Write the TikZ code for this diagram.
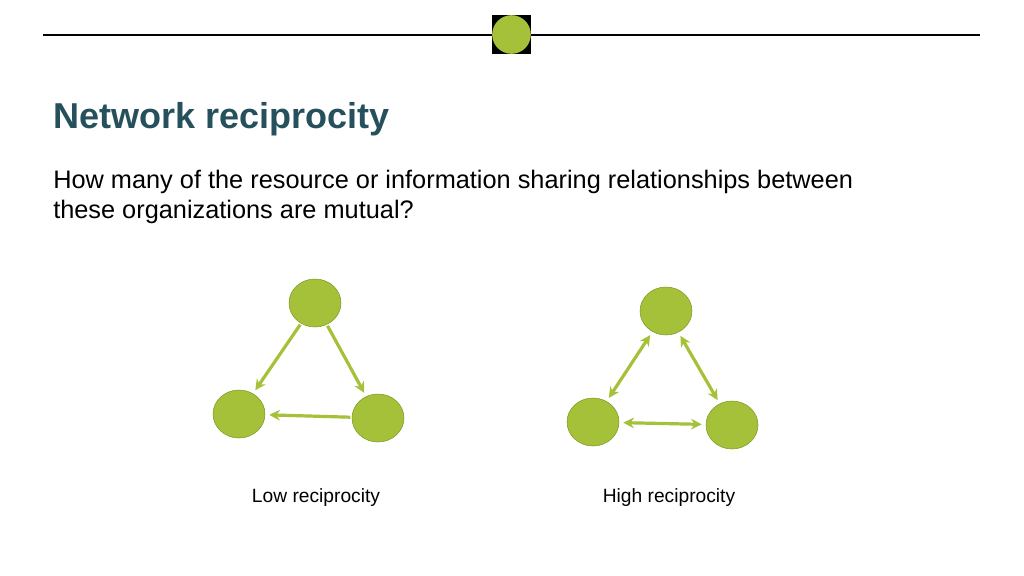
\documentclass[tikz,border=0pt]{standalone}
\usepackage{fontspec}
\setmainfont{Liberation Sans}
\usetikzlibrary{shapes.geometric,arrows.meta}
\definecolor{leaf}{HTML}{A5C13A}
\definecolor{leafdark}{HTML}{7E9A25}
\definecolor{teal}{HTML}{25505C}
\tikzset{
  org/.style={ellipse,draw=leafdark,fill=leaf,minimum width=39pt,minimum height=36pt,inner sep=0pt},
  tie/.style={draw=leaf,line width=2.4pt,-{Stealth[length=8pt,width=8pt]},shorten >=3pt,shorten <=1pt},
  mutual/.style={tie,{Stealth[length=8pt,width=8pt]}-{Stealth[length=8pt,width=8pt]},shorten <=3pt},
}
\begin{document}
\begin{tikzpicture}[x=0.75pt,y=-0.75pt]
        \useasboundingbox (0,0) rectangle (1024,575);

        % Header rule with badge
        \coordinate (RULE_L) at (43,35);
        \coordinate (RULE_R) at (980,35);
        \draw[line width=0.8pt] (RULE_L) -- (RULE_R);
        \fill[black] (492,15) rectangle (531,54);
        \fill[leaf] (511.5,34.5) circle (14.5pt);

        % Title and question
        \node[anchor=base west,text=teal,font=\fontsize{27}{30}\selectfont\bfseries,inner sep=0pt] (title) at (53,128) {Network reciprocity};
        \node[anchor=north west,font=\fontsize{19}{22.5}\selectfont,inner sep=0pt,align=left] (question) at (53,170) {How many of the resource or information sharing relationships between\\these organizations are mutual?};

        % Low reciprocity
        \node[org] (lowtop) at (315,303) {};
        \node[org] (lowleft) at (239,414) {};
        \node[org] (lowright) at (378,418) {};
        \draw[tie] (lowtop) -- (lowleft);
        \draw[tie] (lowtop) -- (lowright);
        \draw[tie] (lowright) -- (lowleft);
        \node[anchor=base,font=\fontsize{14.4}{16}\selectfont] (lowlabel) at (316,502) {Low reciprocity};

        % High reciprocity
        \node[org] (hightop) at (666,311) {};
        \node[org] (highleft) at (593,422) {};
        \node[org] (highright) at (732,425) {};
        \draw[mutual] (hightop) -- (highleft);
        \draw[mutual] (hightop) -- (highright);
        \draw[mutual] (highleft) -- (highright);
        \node[anchor=base,font=\fontsize{14.4}{16}\selectfont] (highlabel) at (669,502) {High reciprocity};
\end{tikzpicture}
\end{document}
